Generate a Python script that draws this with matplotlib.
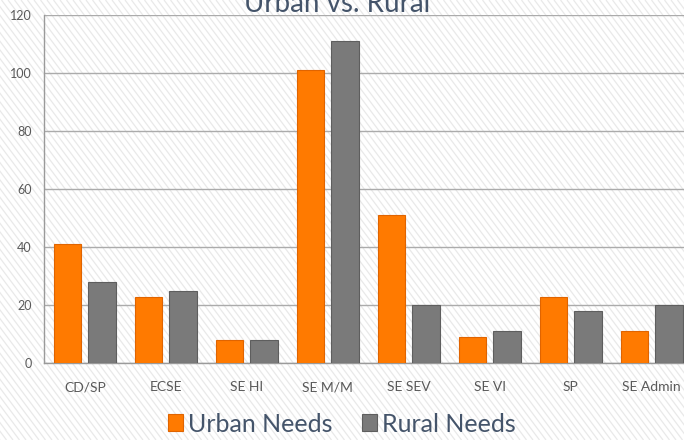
import numpy as np
import matplotlib
matplotlib.use("Agg")
import matplotlib.pyplot as plt
from matplotlib.collections import LineCollection

# Data
categories = ["CD/SP", "ECSE", "SE HI", "SE M/M", "SE SEV", "SE VI", "SP", "SE Admin"]
urban_needs = [41, 23, 8, 101, 51, 9, 23, 11]
rural_needs = [28, 25, 8, 111, 20, 11, 18, 20]
y_ticks = [0, 20, 40, 60, 80, 100, 120]

plt.rcParams['font.family'] = ['Lato', 'DejaVu Sans']

W, H = 6.84, 4.40
fig = plt.figure(figsize=(W, H), dpi=100)
fig.patch.set_facecolor("white")

# diagonal stripe background
segs = []
dx = 0.065
k = 0.75  # horizontal shift per inch of height
x0 = -k * H
while x0 < W + k * H:
    segs.append([(x0, H), (x0 + k * H, 0)])
    x0 += dx
lc = LineCollection(segs, colors="#E9E9E9", linewidths=0.9,
                    transform=fig.dpi_scale_trans, zorder=0)
fig.add_artist(lc)

ax = fig.add_axes([44.3 / 684, 76.7 / 440, 648 / 684, 347.9 / 440])
ax.set_facecolor("none")

x = np.arange(len(categories))
w = 0.34
off = 0.215
b1 = ax.bar(x - off, urban_needs, w, color="#FF7A00", edgecolor="#E06400",
            linewidth=0.8, label="Urban Needs", zorder=3)
b2 = ax.bar(x + off, rural_needs, w, color="#7A7A7A", edgecolor="#5E5E5E",
            linewidth=0.8, label="Rural Needs", zorder=3)

ax.set_xlim(-0.5, len(categories) - 0.5)
ax.set_ylim(0, 120)
ax.set_yticks(y_ticks)
ax.set_xticks(x)
ax.set_xticklabels(categories)
ax.yaxis.grid(True, color="#ABABAB", linewidth=1.0, zorder=1)
ax.set_axisbelow(True)
for s in ["top", "right"]:
    ax.spines[s].set_visible(False)
for s in ["left", "bottom"]:
    ax.spines[s].set_color("#9A9A9A")
    ax.spines[s].set_linewidth(1.0)
ax.tick_params(axis="both", length=0, colors="#595959")
ax.tick_params(axis="x", pad=13, labelsize=10)
ax.tick_params(axis="y", pad=9, labelsize=9)

fig.text(337.5 / 684, 1 - 12.5 / 440, "Urban vs. Rural", ha="center", va="baseline",
         fontsize=20, color="#44546A")

fig.legend(handles=[b1, b2], loc="center", bbox_to_anchor=(342 / 684, 1 - 424 / 440),
           ncol=2, frameon=False, fontsize=18, labelcolor="#44546A",
           handlelength=0.6, handleheight=0.65, handletextpad=0.2,
           columnspacing=1.2, borderpad=0)

fig.savefig("out.png", dpi=100, facecolor=fig.get_facecolor())
